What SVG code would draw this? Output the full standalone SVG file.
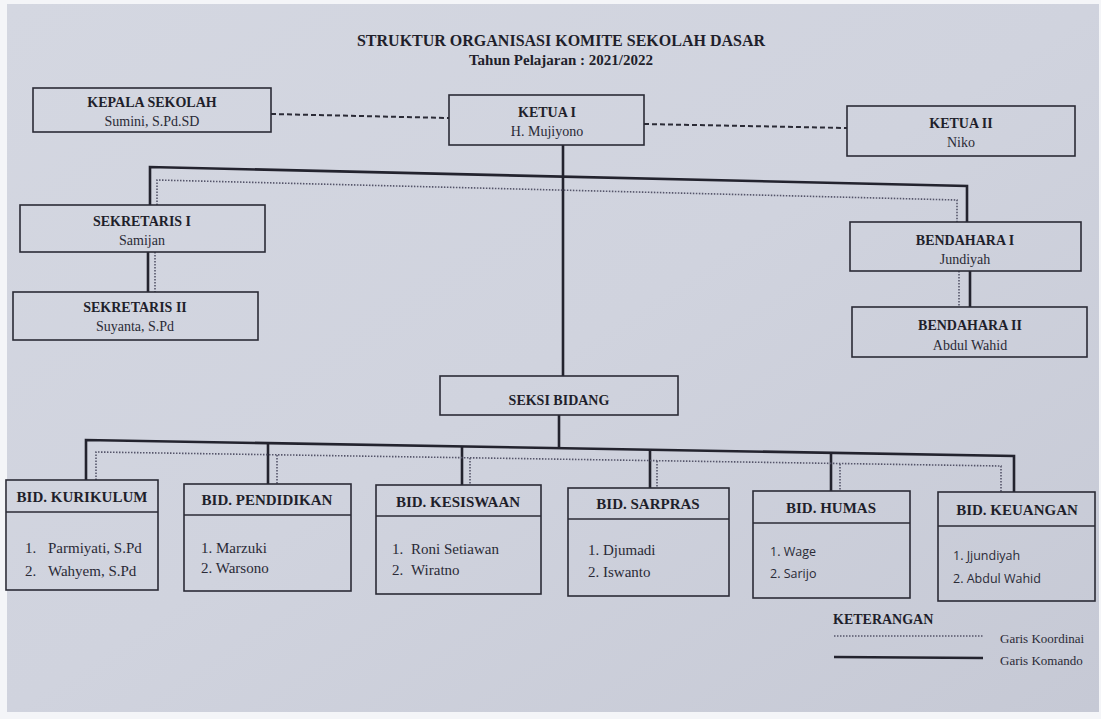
<svg xmlns="http://www.w3.org/2000/svg" width="1101" height="719" viewBox="0 0 1101 719">
<defs>
<linearGradient id="paper" x1="0" y1="0" x2="1" y2="1">
<stop offset="0" stop-color="#d4d7e1"/>
<stop offset="0.5" stop-color="#d0d3de"/>
<stop offset="1" stop-color="#c6c9d5"/>
</linearGradient>
<style>
.box{fill:none;stroke:#2b2b36;stroke-width:1.6}
.cmd{fill:none;stroke:#23232e;stroke-width:2.6}
.crd{fill:none;stroke:#55556a;stroke-width:1.6;stroke-dasharray:1.5 1.5}
.dsh{fill:none;stroke:#2b2b36;stroke-width:2;stroke-dasharray:5 3}
.serif{font-family:'Liberation Serif','Tinos','Times New Roman','DejaVu Serif',serif}
.t{font-weight:bold;font-size:14px;fill:#1f1f2b;text-anchor:middle}
.n{font-size:14px;fill:#2a2a36;text-anchor:middle}
.bt{font-weight:bold;font-size:15px;fill:#1f1f2b;text-anchor:middle}
.li{font-size:15px;fill:#2a2a36}
.ls{font-family:'Open Sans','Liberation Sans',sans-serif;font-size:12.5px;fill:#2a2a36}
.h{font-weight:bold;fill:#1f1f2b;text-anchor:middle}
</style>
</defs>
<rect x="0" y="0" width="1101" height="719" fill="#f4f5f8"/>
<rect x="7" y="4" width="1092" height="708" fill="url(#paper)"/>

<text class="serif h" x="561" y="46" font-size="16">STRUKTUR ORGANISASI KOMITE SEKOLAH DASAR</text>
<text class="serif h" x="561" y="65" font-size="15">Tahun Pelajaran : 2021/2022</text>

<g id="connectors">
<line class="dsh" x1="271" y1="114" x2="449" y2="118"/>
<line class="dsh" x1="644" y1="124" x2="847" y2="128"/>
<line class="cmd" x1="563" y1="145" x2="563" y2="376"/>
<polyline class="cmd" points="150,205 150,167 967,186 967,222"/>
<polyline class="crd" points="157,205 157,180 957,200 957,222"/>
<line class="cmd" x1="148" y1="252" x2="148" y2="292"/>
<line class="crd" x1="155" y1="252" x2="155" y2="292"/>
<line class="cmd" x1="970" y1="271" x2="970" y2="307"/>
<line class="crd" x1="959" y1="271" x2="959" y2="307"/>
<line class="cmd" x1="559" y1="415" x2="559" y2="449"/>
<polyline class="cmd" points="86,480 86,440 1014,456 1014,492"/>
<line class="cmd" x1="268" y1="443" x2="268" y2="484"/>
<line class="cmd" x1="462" y1="446" x2="462" y2="485"/>
<line class="cmd" x1="650" y1="449" x2="650" y2="488"/>
<line class="cmd" x1="831" y1="452" x2="831" y2="491"/>
<polyline class="crd" points="96,480 96,452 1001,466 1001,492"/>
<line class="crd" x1="277" y1="455" x2="277" y2="484"/>
<line class="crd" x1="470" y1="458" x2="470" y2="485"/>
<line class="crd" x1="657" y1="461" x2="657" y2="488"/>
<line class="crd" x1="840" y1="464" x2="840" y2="491"/>
</g>

<g id="kepala-sekolah" class="serif">
<rect class="box" x="33" y="88" width="238" height="44"/>
<text class="t" x="152" y="107">KEPALA SEKOLAH</text>
<text class="n" x="152" y="126">Sumini, S.Pd.SD</text>
</g>
<g id="ketua-1" class="serif">
<rect class="box" x="449" y="95" width="195" height="50"/>
<text class="t" x="547" y="117">KETUA I</text>
<text class="n" x="547" y="136">H. Mujiyono</text>
</g>
<g id="ketua-2" class="serif">
<rect class="box" x="847" y="106" width="228" height="50"/>
<text class="t" x="961" y="128">KETUA II</text>
<text class="n" x="961" y="147">Niko</text>
</g>
<g id="sekretaris-1" class="serif">
<rect class="box" x="20" y="205" width="245" height="47"/>
<text class="t" x="142" y="226">SEKRETARIS I</text>
<text class="n" x="142" y="245">Samijan</text>
</g>
<g id="sekretaris-2" class="serif">
<rect class="box" x="13" y="292" width="245" height="48"/>
<text class="t" x="135" y="312">SEKRETARIS II</text>
<text class="n" x="135" y="331">Suyanta, S.Pd</text>
</g>
<g id="bendahara-1" class="serif">
<rect class="box" x="850" y="222" width="231" height="49"/>
<text class="t" x="965" y="245">BENDAHARA I</text>
<text class="n" x="965" y="264">Jundiyah</text>
</g>
<g id="bendahara-2" class="serif">
<rect class="box" x="852" y="307" width="235" height="50"/>
<text class="t" x="970" y="330">BENDAHARA II</text>
<text class="n" x="970" y="350">Abdul Wahid</text>
</g>
<g id="seksi-bidang" class="serif">
<rect class="box" x="440" y="376" width="238" height="39"/>
<text class="t" x="559" y="405">SEKSI BIDANG</text>
</g>

<g id="bid-kurikulum" class="serif">
<rect class="box" x="6" y="480" width="152" height="110"/>
<line class="box" x1="6" y1="512" x2="158" y2="512"/>
<text class="bt" x="82" y="502">BID. KURIKULUM</text>
<text class="li" x="25" y="553">1.</text><text class="li" x="48" y="553">Parmiyati, S.Pd</text>
<text class="li" x="25" y="576">2.</text><text class="li" x="48" y="576">Wahyem, S.Pd</text>
</g>
<g id="bid-pendidikan" class="serif">
<rect class="box" x="184" y="484" width="167" height="107"/>
<line class="box" x1="184" y1="515" x2="351" y2="515"/>
<text class="bt" x="267" y="505">BID. PENDIDIKAN</text>
<text class="li" x="201" y="553">1. Marzuki</text>
<text class="li" x="201" y="573">2. Warsono</text>
</g>
<g id="bid-kesiswaan" class="serif">
<rect class="box" x="376" y="485" width="165" height="109"/>
<line class="box" x1="376" y1="516" x2="541" y2="516"/>
<text class="bt" x="458" y="507">BID. KESISWAAN</text>
<text class="li" x="392" y="554">1.</text><text class="li" x="411" y="554">Roni Setiawan</text>
<text class="li" x="392" y="575">2.</text><text class="li" x="411" y="575">Wiratno</text>
</g>
<g id="bid-sarpras" class="serif">
<rect class="box" x="568" y="488" width="161" height="108"/>
<line class="box" x1="568" y1="519" x2="729" y2="519"/>
<text class="bt" x="648" y="509">BID. SARPRAS</text>
<text class="li" x="588" y="555">1. Djumadi</text>
<text class="li" x="588" y="577">2. Iswanto</text>
</g>
<g id="bid-humas" class="serif">
<rect class="box" x="753" y="491" width="157" height="107"/>
<line class="box" x1="753" y1="523" x2="910" y2="523"/>
<text class="bt" x="831" y="513">BID. HUMAS</text>
<text class="ls" x="770" y="556">1. Wage</text>
<text class="ls" x="770" y="578">2. Sarijo</text>
</g>
<g id="bid-keuangan" class="serif">
<rect class="box" x="938" y="492" width="157" height="109"/>
<line class="box" x1="938" y1="526" x2="1095" y2="526"/>
<text class="bt" x="1017" y="515">BID. KEUANGAN</text>
<text class="ls" x="953" y="560">1. Jjundiyah</text>
<text class="ls" x="953" y="583">2. Abdul Wahid</text>
</g>

<g id="legend" class="serif">
<text x="833" y="624" font-weight="bold" font-size="14" fill="#1f1f2b">KETERANGAN</text>
<line class="crd" x1="834" y1="636" x2="983" y2="636"/>
<text x="1000" y="643" font-size="13" fill="#2a2a36">Garis Koordinai</text>
<line class="cmd" x1="834" y1="657" x2="983" y2="658"/>
<text x="1000" y="665" font-size="13" fill="#2a2a36">Garis Komando</text>
</g>
</svg>
